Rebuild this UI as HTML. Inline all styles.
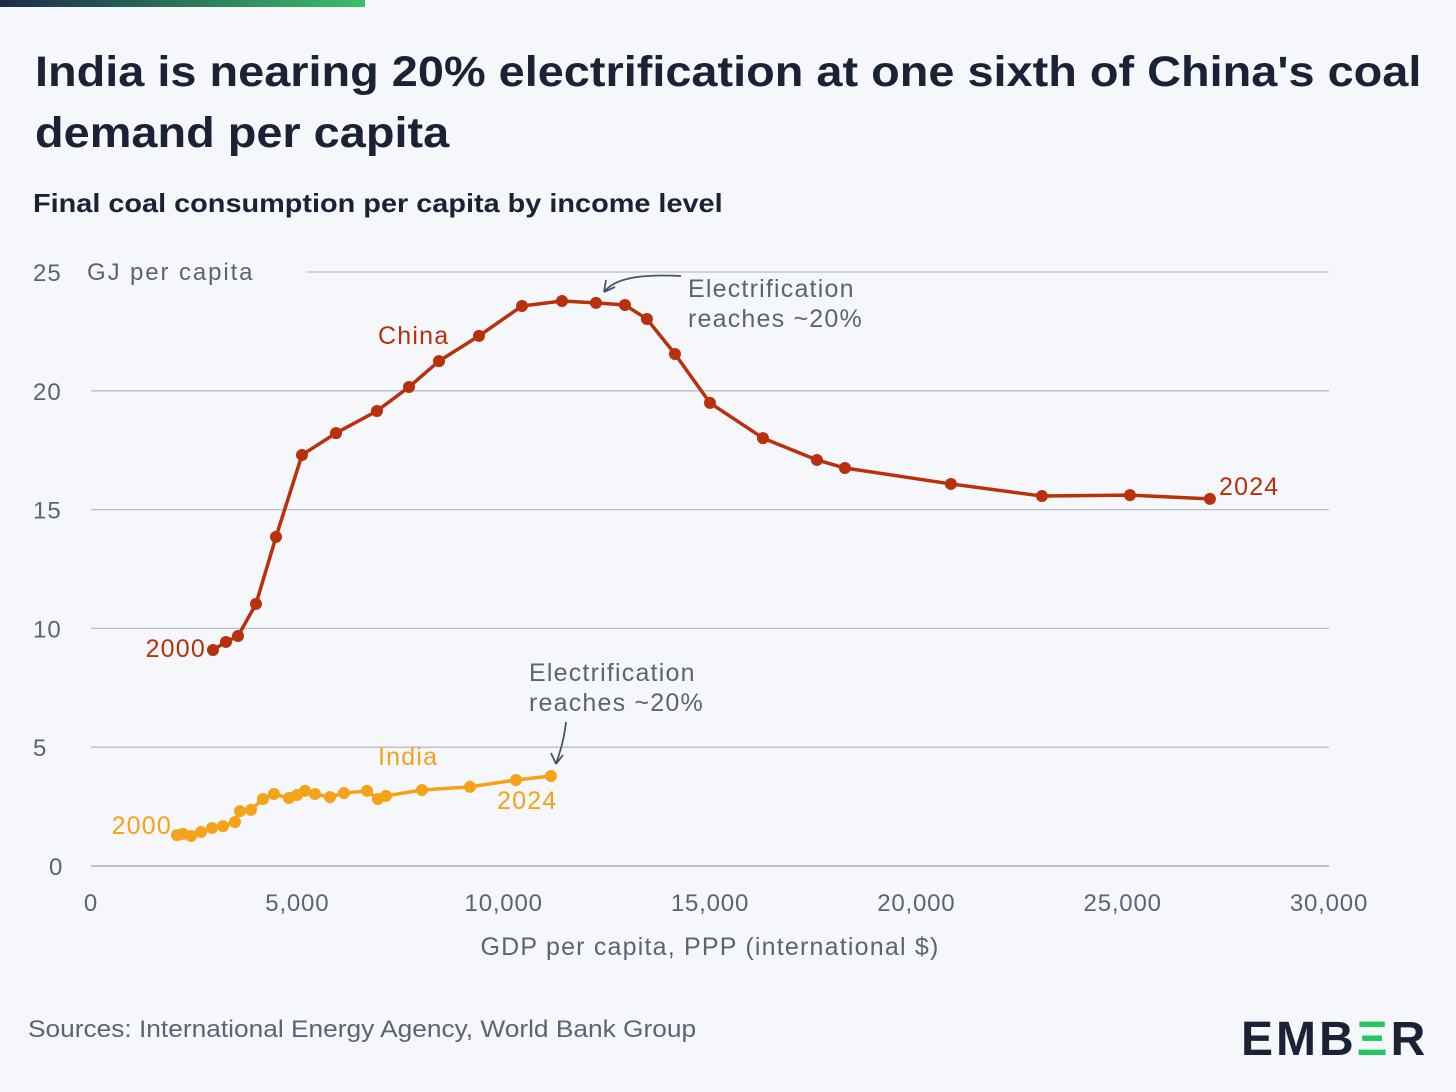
<!DOCTYPE html>
<html><head><meta charset="utf-8">
<style>
body{margin:0;background:#f6f7fa;font-family:"Liberation Sans",sans-serif;}
#wrap{position:relative;width:1456px;height:1092px;overflow:hidden;background:#f6f7fa;}
.t{position:absolute;white-space:nowrap;transform-origin:0 0;}
</style></head><body>
<div id="wrap">
<div style="position:absolute;left:0;top:0;width:365px;height:7px;background:linear-gradient(90deg,#1c2a4a,#3bbf6a);"></div>
<div class="t" style="left:35px;top:42px;font-size:43px;font-weight:bold;color:#1a2236;line-height:61px;transform:scaleX(1.09);">India is nearing 20% electrification at one sixth of China's coal<br>demand per capita</div>
<div class="t" style="left:33px;top:188px;font-size:26px;font-weight:bold;color:#1a2236;transform:scaleX(1.11);">Final coal consumption per capita by income level</div>
<svg id="chart" width="1456" height="1092" style="position:absolute;left:0;top:0"></svg>
<div class="t" style="left:28px;top:1016px;font-size:24px;color:#5b6475;transform:scaleX(1.095);">Sources: International Energy Agency, World Bank Group</div>
<div class="t" style="left:1241px;top:1012px;font-size:48px;font-weight:bold;color:#1a2236;letter-spacing:3px;">EMB<span style="color:#22c55e">Ξ</span>R</div>
</div>
<script>
const chinaGdp=[2956,3271,3562,3998,4483,5113,5937,6930,7706,8433,9402,10444,11413,12237,12939,13472,14151,14999,16283,17591,18270,20838,23043,25176,27114];
const chinaCoal=[9.09,9.43,9.68,11.03,13.85,17.30,18.22,19.15,20.16,21.25,22.31,23.57,23.78,23.70,23.61,23.02,21.55,19.49,18.01,17.09,16.75,16.08,15.57,15.61,15.45];
const indiaGdp=[2084,2229,2423,2665,2932,3198,3489,3610,3877,4167,4434,4798,4992,5185,5428,5791,6130,6688,6954,7148,8020,9183,10298,11146];
const indiaCoal=[1.30,1.35,1.26,1.43,1.60,1.68,1.85,2.31,2.36,2.82,3.03,2.86,2.99,3.16,3.03,2.90,3.07,3.16,2.82,2.95,3.20,3.33,3.62,3.79];
const yTicks=[0,5,10,15,20,25];
const xTicks=[0,5000,10000,15000,20000,25000,30000];
const xTickLabels=["0","5,000","10,000","15,000","20,000","25,000","30,000"];
const NS="http://www.w3.org/2000/svg";
const svg=document.getElementById('chart');
const X=v=>91+v*(1329-91)/30000;
const Y=v=>866-v*(866-272)/25;
function mk(tag,attrs,text){const e=document.createElementNS(NS,tag);for(const k in attrs)e.setAttribute(k,attrs[k]);if(text!==undefined)e.textContent=text;svg.appendChild(e);return e;}
const font='"Liberation Sans",sans-serif';
yTicks.forEach(t=>{
  const g=mk('line',{x1:t===25?307:91,x2:1329,y1:Y(t),y2:Y(t),stroke:t===0?'#9aa1ad':'#b9bec8','stroke-width':1.3});
  
  
  const l=mk('text',{x:t===0?49:33,y:Y(t)+9,'font-size':24,fill:'#5b6475','font-family':font,'letter-spacing':1},String(t));
  
  
});
const yt=mk('text',{x:87,y:280,'font-size':24,fill:'#5b6475','font-family':font,'letter-spacing':1.9},'GJ per capita');


xTicks.forEach((t,i)=>{
  const l=mk('text',{x:X(t),y:911,'font-size':24,fill:'#5b6475','font-family':font,'text-anchor':'middle','letter-spacing':0.8},xTickLabels[i]);
  
  
});
const xt=mk('text',{x:710,y:955,'font-size':25,fill:'#5b6475','font-family':font,'text-anchor':'middle','letter-spacing':1.2},'GDP per capita, PPP (international $)');


function series(xs,ys,color,name){
  const p=mk('polyline',{points:xs.map((x,i)=>X(x)+','+Y(ys[i])).join(' '),fill:'none',stroke:color,'stroke-width':3.5,'stroke-linejoin':'round'});
  
  
  xs.forEach((x,i)=>{
    const c=mk('circle',{cx:X(x),cy:Y(ys[i]),r:6,fill:color});
    
    
  });
}
series(chinaGdp,chinaCoal,'#b8300c','china');
series(indiaGdp,indiaCoal,'#f5a21b','india');
function label(x,y,txt,color,name,anchor){const e=mk('text',{x:x,y:y,'font-size':25,fill:color,'font-family':font,'text-anchor':anchor||'start','letter-spacing':1.2},txt);

}
label(378,344,'China','#b8300c','china-label');
label(206,657,'2000','#b8300c','china-start-label','end');
label(1219,495,'2024','#b8300c','china-end-label');
label(378,765,'India','#f5a21b','india-label');
label(172,834,'2000','#f5a21b','india-start-label','end');
label(497,809,'2024','#f5a21b','india-end-label');
label(688,297,'Electrification','#5b6475','china-annotation-line1');
label(688,327,'reaches ~20%','#5b6475','china-annotation-line2');
label(529,681,'Electrification','#5b6475','india-annotation-line1');
label(529,711,'reaches ~20%','#5b6475','india-annotation-line2');
const a1=mk('path',{d:'M681,276 C640,274 615,278 604,292 M604,292 L606,280 M604,292 L615,287',fill:'none',stroke:'#4a5468','stroke-width':1.8});


const a2=mk('path',{d:'M566,722 C564,740 560,752 556,764 M556,764 L551,753 M556,764 L563,755',fill:'none',stroke:'#4a5468','stroke-width':1.8});


</script>
</body></html>
